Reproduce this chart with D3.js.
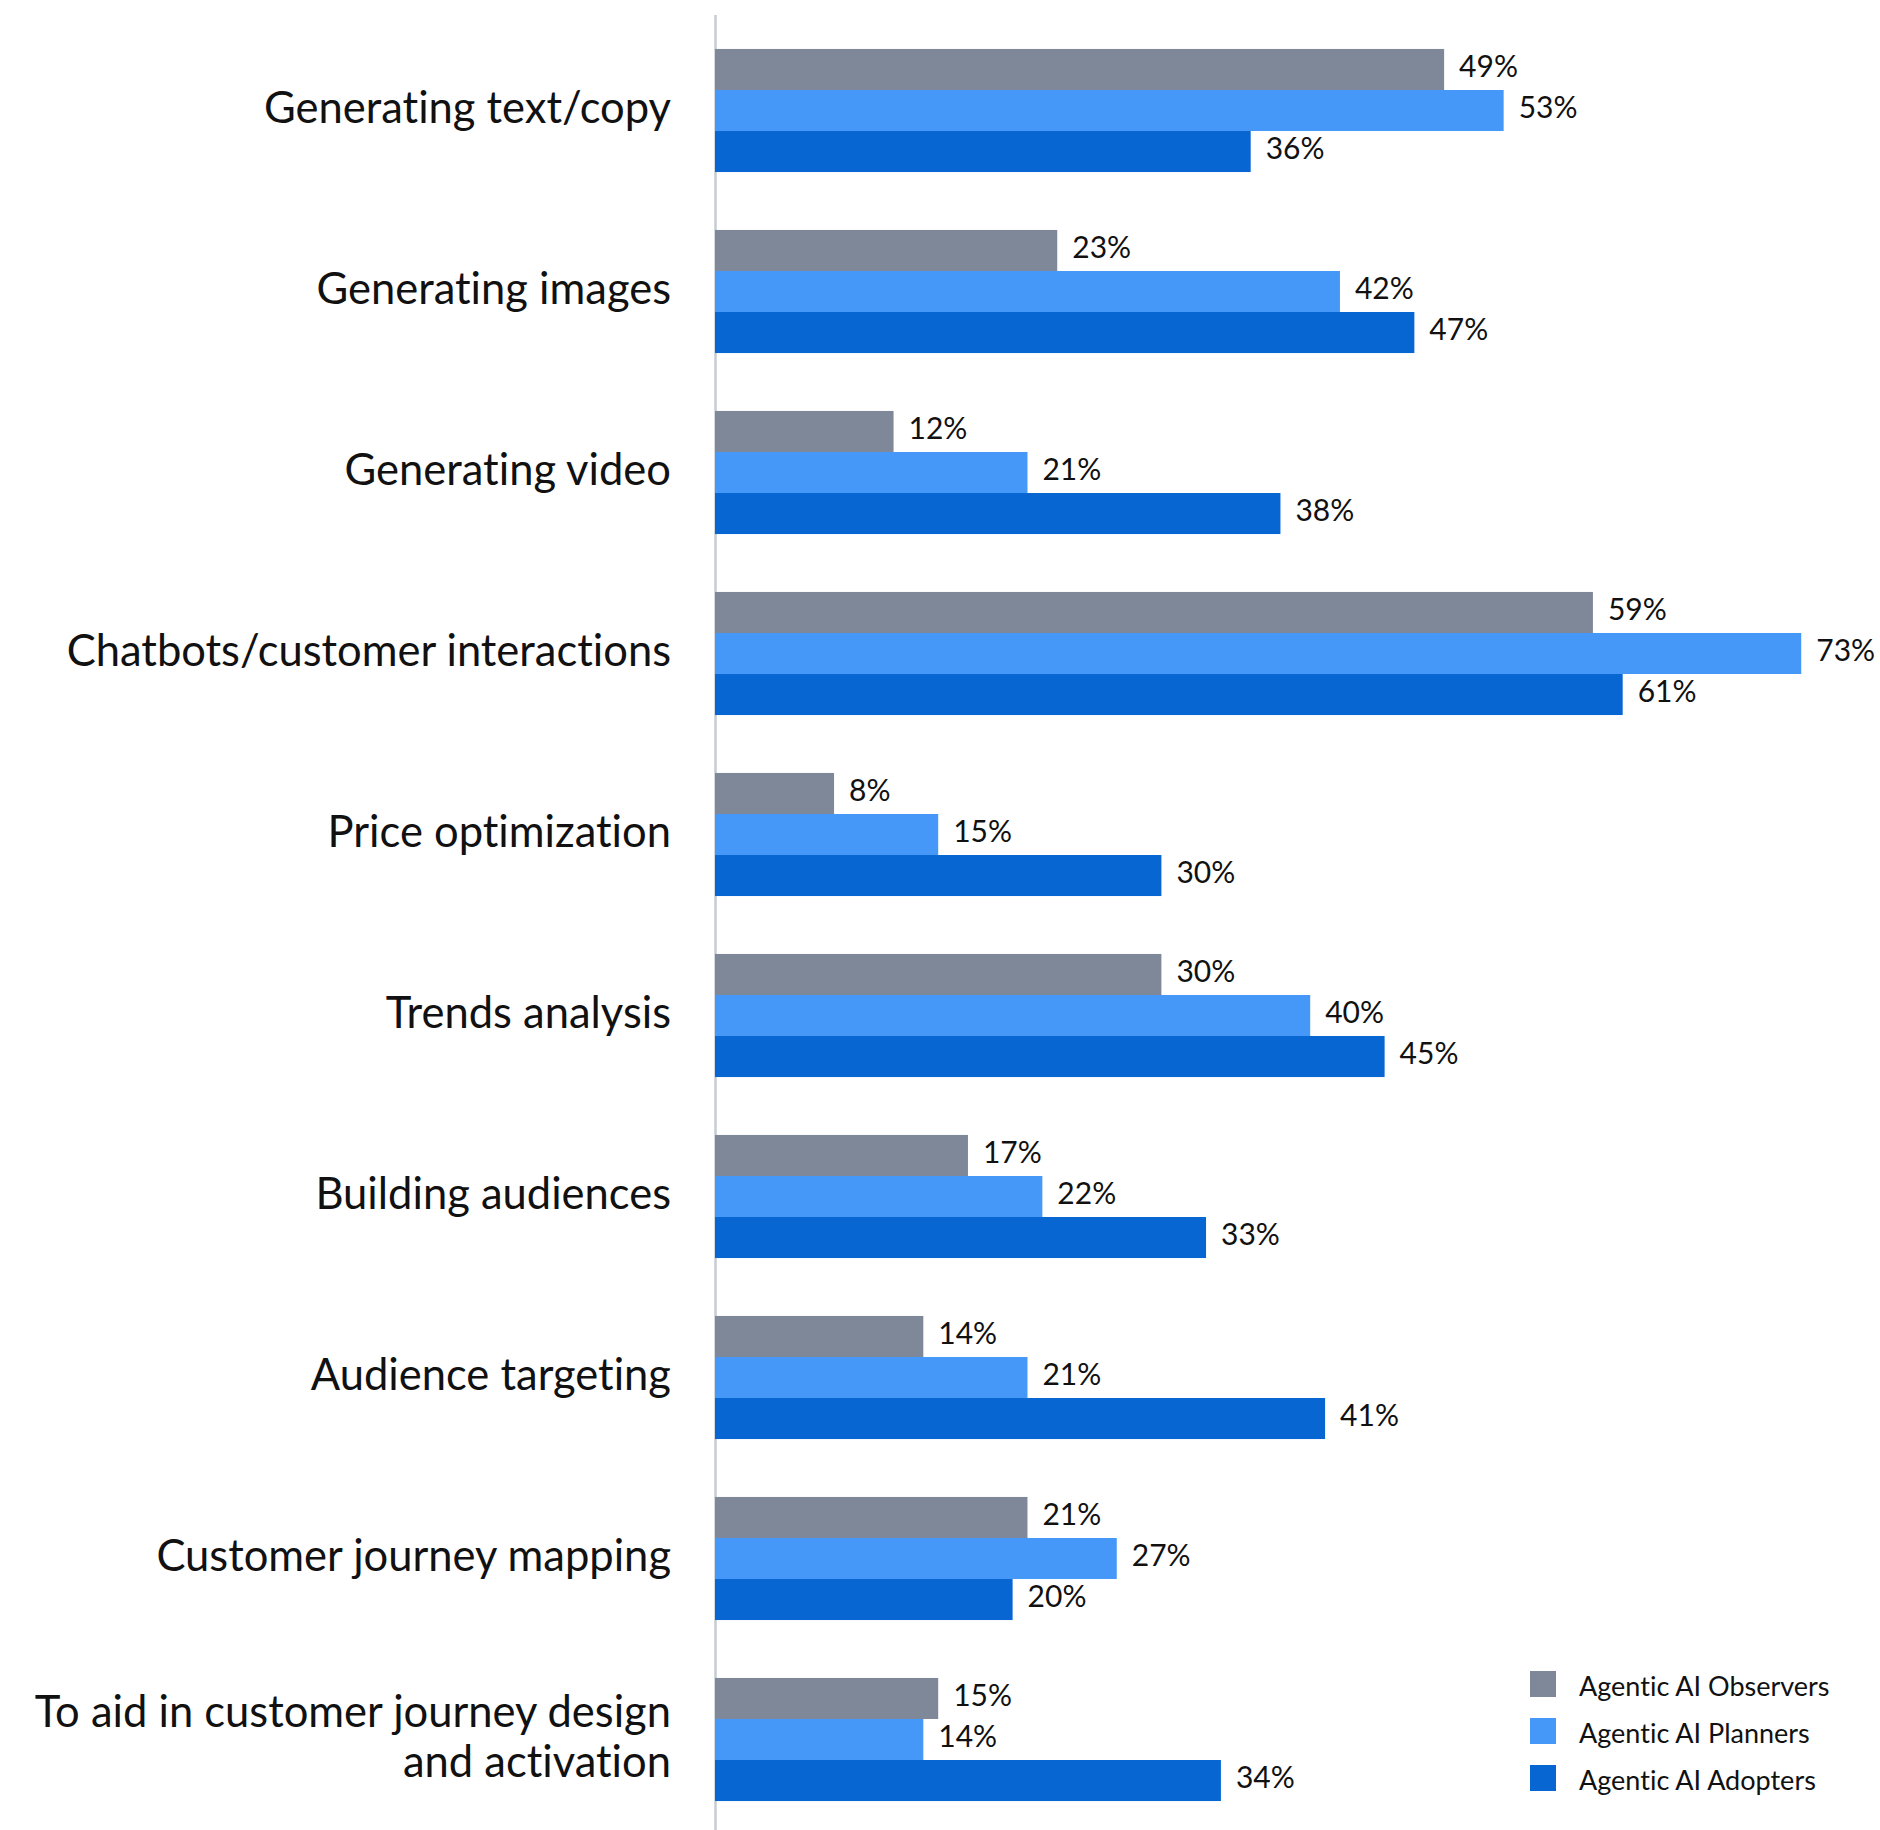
<!DOCTYPE html>
<html><head><meta charset="utf-8">
<script src="https://cdn.jsdelivr.net/npm/d3@7"></script>
<style>
  body { margin: 0; background: #fff; }
  text { font-family: "Lato", "Noto Sans", sans-serif; fill: #111; font-variant-ligatures: none; font-feature-settings: "liga" 0, "clig" 0; }
</style>
</head><body>
<svg id="chart" width="1880" height="1830"></svg>
<script>
// Use cases (each label may wrap onto several lines)
const categories = [
  ["Generating text/copy"],
  ["Generating images"],
  ["Generating video"],
  ["Chatbots/customer interactions"],
  ["Price optimization"],
  ["Trends analysis"],
  ["Building audiences"],
  ["Audience targeting"],
  ["Customer journey mapping"],
  ["To aid in customer journey design", "and activation"]
];

const seriesNames = ["Agentic AI Observers", "Agentic AI Planners", "Agentic AI Adopters"];
const seriesColors = ["#7f8899", "#4597f8", "#0866d2"];

// Share of respondents (%), one array per series, in category order
const observers = [49, 23, 12, 59, 8, 30, 17, 14, 21, 15];
const planners  = [53, 42, 21, 73, 15, 40, 22, 21, 27, 14];
const adopters  = [36, 47, 38, 61, 30, 45, 33, 41, 20, 34];

const seriesValues = [observers, planners, adopters];

const svg = d3.select("#chart");
const W = 1880, H = 1830;

const x = d3.scaleLinear().domain([0, 100]).range([715, 715 + 1488]);

const y = d3.scaleBand()
  .domain(d3.range(categories.length))
  .range([20, 1830])
  .paddingInner(0.32)
  .paddingOuter(0.16);

const ySub = d3.scaleBand()
  .domain(d3.range(seriesNames.length))
  .range([0, y.bandwidth()]);

// Vertical baseline
svg.append("line")
  .attr("x1", 715.5).attr("x2", 715.5)
  .attr("y1", 15).attr("y2", H)
  .attr("stroke", "#c6cbd4")
  .attr("stroke-width", 2.5);

// Bars and value labels
const groups = svg.selectAll("g.cat")
  .data(categories)
  .join("g")
  .attr("class", "cat")
  .attr("transform", (d, i) => `translate(0,${y(i)})`);

groups.each(function (cat, i) {
  const g = d3.select(this);
  seriesValues.forEach((vals, s) => {
    const v = vals[i];
    g.append("rect")
      .attr("x", x(0))
      .attr("y", ySub(s))
      .attr("width", x(v) - x(0))
      .attr("height", ySub.bandwidth())
      .attr("fill", seriesColors[s]);
    g.append("text")
      .attr("x", x(v) + 15)
      .attr("y", ySub(s) + ySub.bandwidth() / 2 + 7.5)
      .style("font-size", "30px")
      .text(v + "%");
  });

  // Category label, right-aligned against the baseline
  const lineH = 50;
  const cy = y.bandwidth() / 2 - (cat.length - 1) * lineH / 2;
  const t = g.append("text")
    .attr("text-anchor", "end")
    .style("font-size", "43.5px");
  cat.forEach((line, k) => {
    t.append("tspan")
      .attr("x", 671)
      .attr("y", cy + k * lineH + 12.5)
      .text(line);
  });
});

// Legend
const legend = svg.append("g").attr("transform", "translate(1530,1671)");
seriesNames.forEach((name, s) => {
  const row = legend.append("g").attr("transform", `translate(0,${s * 47})`);
  row.append("rect").attr("width", 26).attr("height", 26).attr("fill", seriesColors[s]);
  row.append("text")
    .attr("x", 49).attr("y", 25)
    .style("font-size", "27px")
    .text(name);
});
</script></body></html>
